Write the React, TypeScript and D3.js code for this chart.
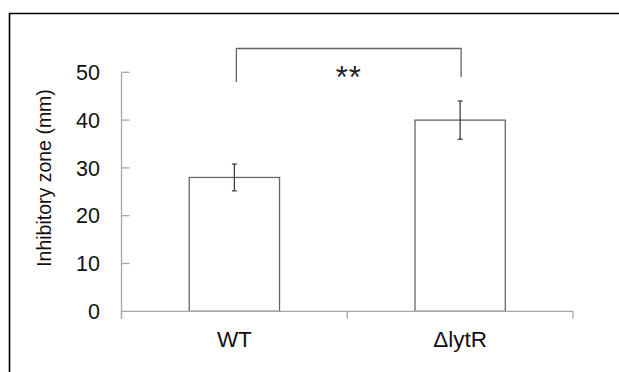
import React, { FC, useEffect, useRef } from "react"
import { select, scaleLinear, scaleBand } from "d3"

const categories = ["WT", "ΔlytR"]
const means = [28, 40]
const errors = [2.8, 4]
const yTicks = [0, 10, 20, 30, 40, 50]
const yLabel = "Inhibitory zone (mm)"
const significance = "**"

const InhibitoryZoneChart: FC = () => {
  const wrapperRef = useRef<HTMLDivElement>(null)

  useEffect(() => {
    if (!wrapperRef.current) return
    const width = 619
    const height = 372

    const root = select(wrapperRef.current)
    root.selectAll("*").remove()

    const svg = root
      .append("svg")
      .attr("width", width)
      .attr("height", height)
      .style("position", "absolute")
      .style("left", "0px")
      .style("top", "0px")
      .style("font-family", "Liberation Sans, Arial, sans-serif")

    svg.append("rect").attr("width", width).attr("height", height).attr("fill", "#fff")

    // outer frame (top and left edges visible)
    svg
      .append("path")
      .attr("d", `M9.5,${height + 10}V13.5H${width + 10}`)
      .attr("fill", "none")
      .attr("stroke", "#000")
      .attr("stroke-width", 1.6)

    // scales
    const yScale = scaleLinear().domain([0, 50]).range([311.3, 72.3])
    const xScale = scaleBand<string>().domain(categories).range([121.5, 573])
    const barWidth = xScale.bandwidth() * 0.4
    const cx = (c: string) => (xScale(c) ?? 0) + xScale.bandwidth() / 2

    const axisColor = "#a6a6a6"
    const y0 = yScale(0)

    // y axis
    svg
      .append("line")
      .attr("x1", 121.5)
      .attr("x2", 121.5)
      .attr("y1", yScale(50))
      .attr("y2", y0 + 7.5)
      .attr("stroke", axisColor)
      .attr("stroke-width", 1.3)

    svg
      .selectAll(".ytick")
      .data(yTicks.filter((t) => t !== 0))
      .join("line")
      .attr("x1", 121.5)
      .attr("x2", 129.5)
      .attr("y1", (d) => yScale(d))
      .attr("y2", (d) => yScale(d))
      .attr("stroke", axisColor)
      .attr("stroke-width", 1.3)

    svg
      .selectAll(".ylabel")
      .data(yTicks)
      .join("text")
      .attr("x", 100)
      .attr("y", (d) => yScale(d))
      .attr("dy", "0.36em")
      .attr("text-anchor", "end")
      .attr("font-size", 21.5)
      .attr("fill", "#111")
      .text((d) => d)

    // y title
    svg
      .append("text")
      .attr("transform", `translate(51,178) rotate(-90)`)
      .attr("text-anchor", "middle")
      .attr("font-size", 19.5)
      .attr("fill", "#111")
      .text(yLabel)

    // bars
    svg
      .selectAll(".bar")
      .data(categories)
      .join("rect")
      .attr("x", (c) => cx(c) - barWidth / 2)
      .attr("y", (_c, i) => yScale(means[i]))
      .attr("width", barWidth)
      .attr("height", (_c, i) => y0 - yScale(means[i]))
      .attr("fill", "#fff")
      .attr("stroke", "#666")
      .attr("stroke-width", 1.3)

    // x axis
    svg
      .append("line")
      .attr("x1", 121.5)
      .attr("x2", 573)
      .attr("y1", y0)
      .attr("y2", y0)
      .attr("stroke", axisColor)
      .attr("stroke-width", 1.3)

    const bounds = [121.5, ...categories.map((c) => (xScale(c) ?? 0) + xScale.bandwidth())]
    svg
      .selectAll(".xtick")
      .data(bounds)
      .join("line")
      .attr("x1", (d) => d)
      .attr("x2", (d) => d)
      .attr("y1", y0)
      .attr("y2", y0 + 7.5)
      .attr("stroke", axisColor)
      .attr("stroke-width", 1.3)

    svg
      .selectAll(".xlabel")
      .data(categories)
      .join("text")
      .attr("x", cx)
      .attr("y", 347)
      .attr("text-anchor", "middle")
      .attr("font-size", 22.5)
      .attr("fill", "#111")
      .text((c) => c)

    // error bars
    const errG = svg
      .selectAll(".err")
      .data(categories)
      .join("g")
      .attr("stroke", "#333")
      .attr("stroke-width", 1.2)
    errG
      .append("line")
      .attr("x1", cx)
      .attr("x2", cx)
      .attr("y1", (_c, i) => yScale(means[i] + errors[i]))
      .attr("y2", (_c, i) => yScale(means[i] - errors[i]))
    errG
      .append("line")
      .attr("x1", (c) => cx(c) - 2.5)
      .attr("x2", (c) => cx(c) + 2.5)
      .attr("y1", (_c, i) => yScale(means[i] + errors[i]))
      .attr("y2", (_c, i) => yScale(means[i] + errors[i]))
    errG
      .append("line")
      .attr("x1", (c) => cx(c) - 2.5)
      .attr("x2", (c) => cx(c) + 2.5)
      .attr("y1", (_c, i) => yScale(means[i] - errors[i]))
      .attr("y2", (_c, i) => yScale(means[i] - errors[i]))

    // significance bracket
    const bx1 = cx(categories[0]) + 2
    const bx2 = cx(categories[1]) + 1
    svg
      .append("path")
      .attr("d", `M${bx1},82V48.5H${bx2}V77`)
      .attr("fill", "none")
      .attr("stroke", "#666")
      .attr("stroke-width", 1.3)
    svg
      .append("text")
      .attr("x", (bx1 + bx2) / 2)
      .attr("y", 88)
      .attr("text-anchor", "middle")
      .attr("font-size", 31)
      .attr("fill", "#222")
      .attr("letter-spacing", 1)
      .text(significance)
  }, [])

  return <div ref={wrapperRef} id="wrapper" />
}

export default InhibitoryZoneChart
